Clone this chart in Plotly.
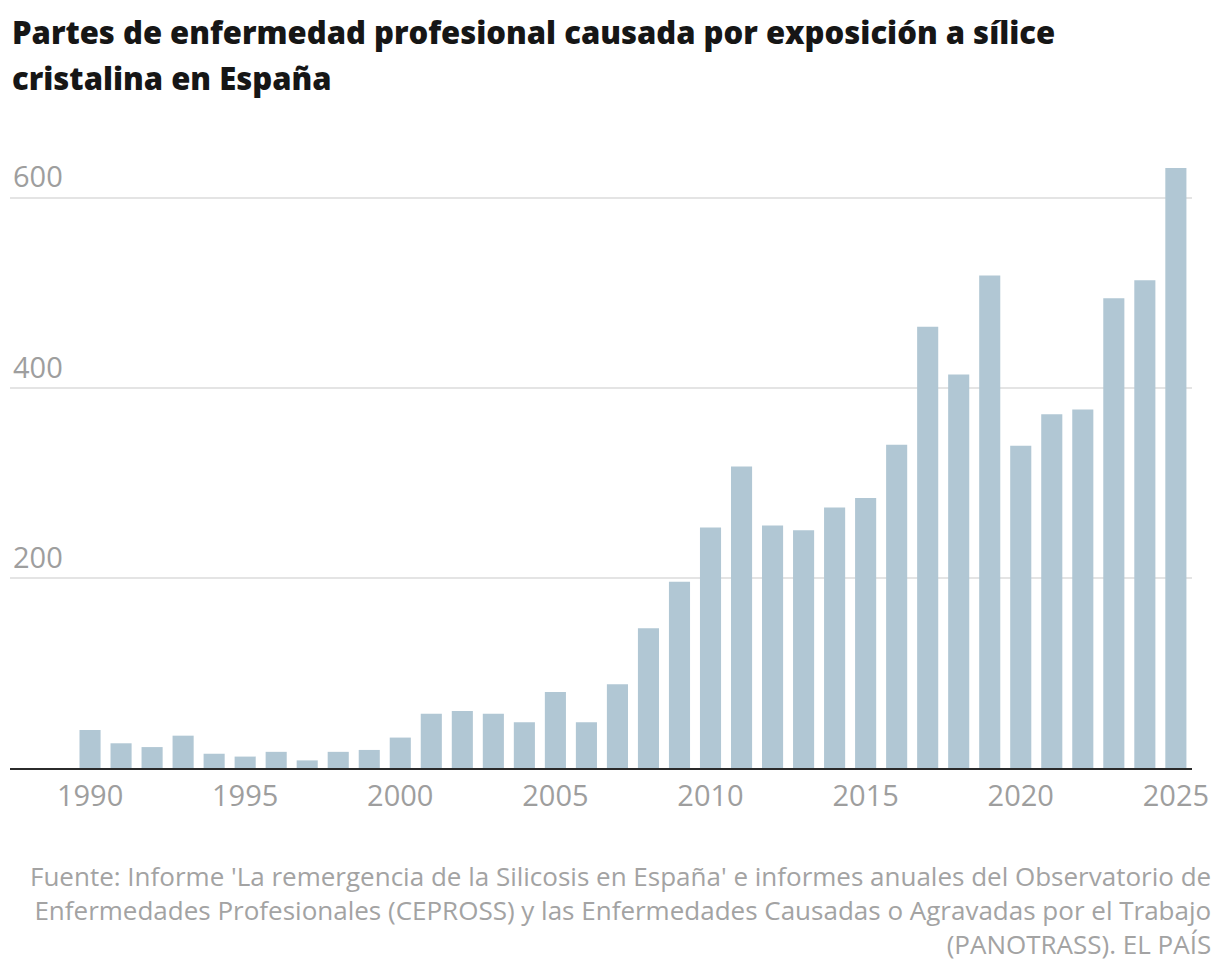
import plotly.graph_objects as go

years = list(range(1990, 2026))
partes = [40, 26, 22, 34, 15, 12, 17, 8, 17, 19,
          32, 57, 60, 57, 48, 80, 48, 88, 147, 196,
          253, 317, 255, 250, 274, 284, 340, 464, 414, 518,
          339, 372, 377, 494, 513, 631]

title_lines = ["Partes de enfermedad profesional causada por exposición a sílice",
               "cristalina en España"]
source_text = ("Fuente: Informe 'La remergencia de la Silicosis en España' e informes anuales del Observatorio de<br>"
               "Enfermedades Profesionales (CEPROSS) y las Enfermedades Causadas o Agravadas por el Trabajo<br>"
               "(PANOTRASS). EL PAÍS")

bar_colour = "#b1c7d4"
grey = "#9e9e9e"
txt_font = "Open Sans"

fig = go.Figure(go.Bar(
    x=years,
    y=partes,
    marker=dict(color=bar_colour, line=dict(width=0)),
    hoverinfo="x+y",
))

fig.update_layout(
    width=1220,
    height=972,
    autosize=False,
    paper_bgcolor="white",
    plot_bgcolor="white",
    margin=dict(l=2, r=36, t=142, b=212),
    bargap=0.32,
    showlegend=False,
    font=dict(family=txt_font, color=grey),
)

fig.update_xaxes(
    range=[1987.42, 2025.52],
    tickvals=list(range(1990, 2026, 5)),
    ticks="",
    showgrid=False,
    showline=True,
    linecolor="#2b2b2b",
    linewidth=2,
    ticklabelstandoff=1,
    tickfont=dict(family=txt_font, size=29, color=grey),
    fixedrange=True,
)

fig.update_yaxes(
    range=[0, 650],
    tickvals=[200, 400, 600],
    ticks="",
    showgrid=True,
    gridcolor="#e4e4e4",
    gridwidth=1.5,
    zeroline=False,
    showline=False,
    ticklabelposition="inside top",
    tickfont=dict(family=txt_font, size=29, color=grey),
    fixedrange=True,
)

# title, two lines placed one by one for the wider line spacing
for line, ypos in zip(title_lines, [1.191, 1.117]):
    fig.add_annotation(
        text=line,
        xref="paper", yref="paper",
        x=0, y=ypos,
        xanchor="left", yanchor="middle",
        align="left",
        showarrow=False,
        font=dict(family=txt_font, size=31, color="#161616", weight=800),
    )

# source note, bottom right
fig.add_annotation(
    text=source_text,
    xref="paper", yref="paper",
    x=1.0175, y=-0.23,
    xanchor="right", yanchor="middle",
    align="right",
    showarrow=False,
    font=dict(family=txt_font, size=26, color="#a3a3a3"),
)

fig.write_html("out.html")
